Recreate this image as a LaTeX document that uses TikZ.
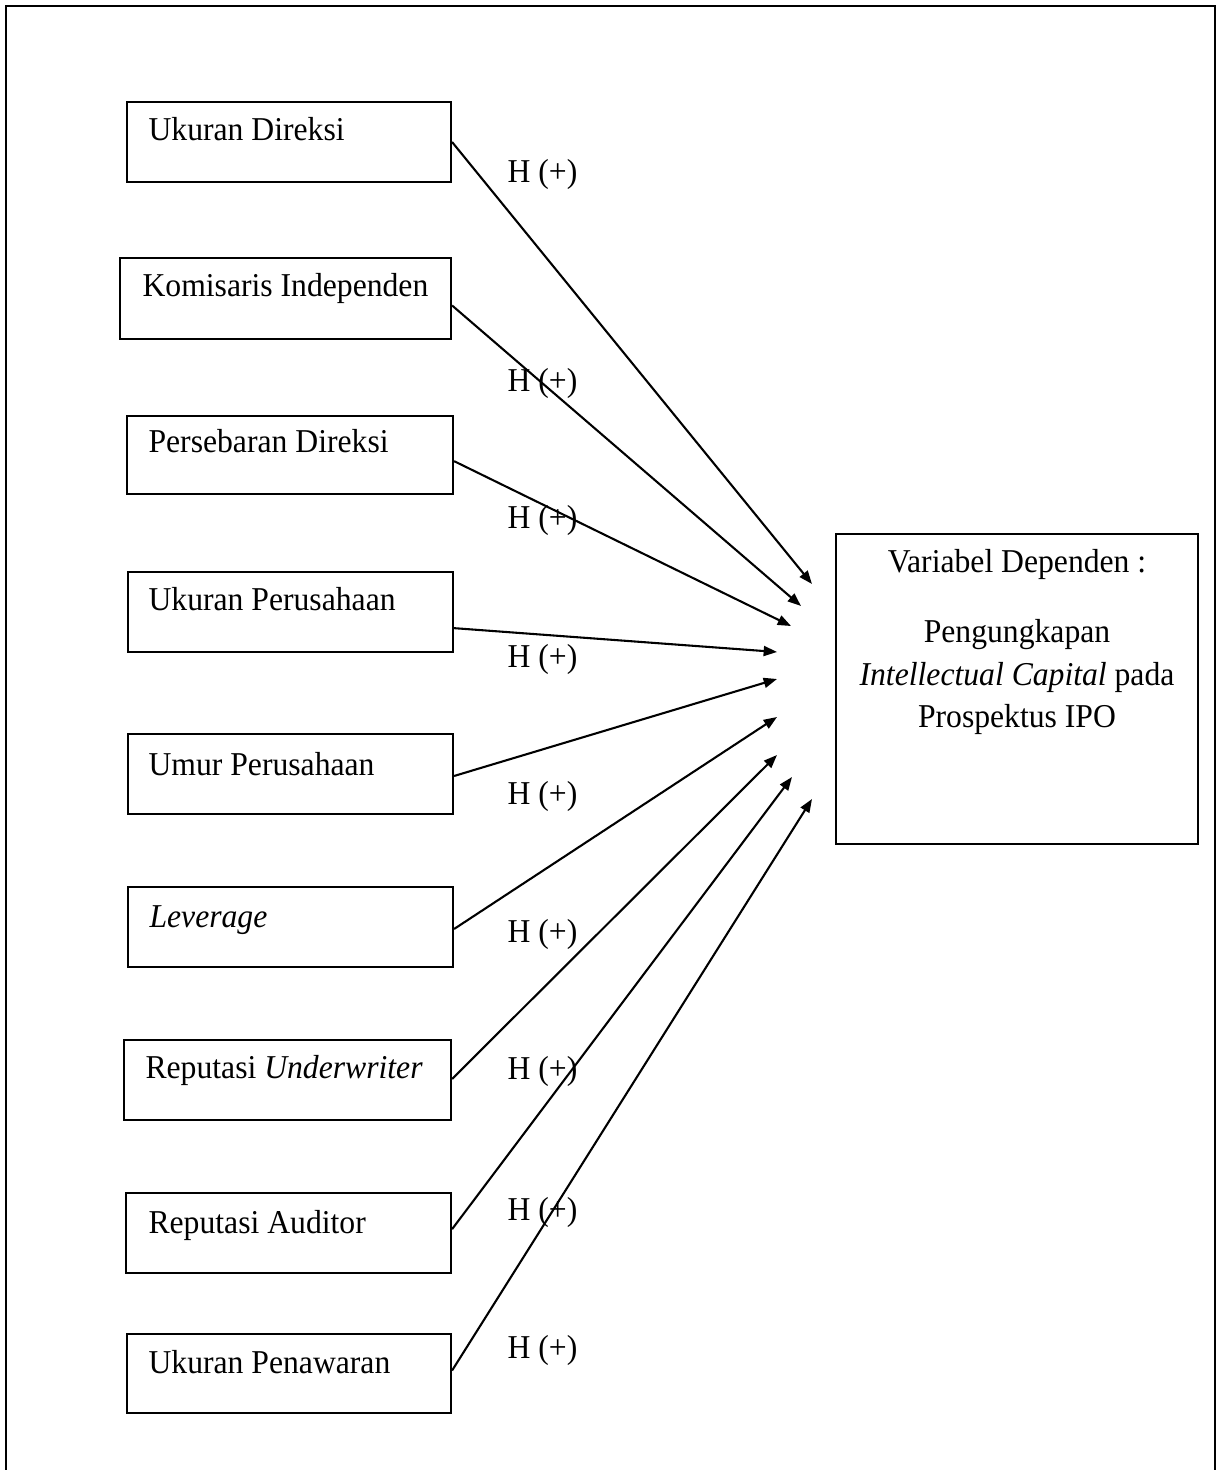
\documentclass[tikz,border=0pt]{standalone}
\usepackage{fontspec}
\setmainfont{Liberation Serif}[FakeStretch=0.95]
\usetikzlibrary{arrows.meta}
\begin{document}
\begin{tikzpicture}[x=0.36pt,y=-0.36pt,
  box/.style={draw,line width=0.75pt,anchor=north west,inner sep=0pt},
  txt/.style={anchor=base west,inner sep=0pt,font=\fontsize{12pt}{14pt}\selectfont},
  ctxt/.style={anchor=base,inner sep=0pt,font=\fontsize{12pt}{14pt}\selectfont},
  hyp/.style={anchor=base west,inner sep=0pt,font=\fontsize{12pt}{14pt}\selectfont},
  conn/.style={line width=0.75pt,-{Triangle[length=4.8pt,width=3.6pt]}}]
\useasboundingbox (0,0) rectangle (1217,1470);
\draw[line width=0.75pt] (6,1475) -- (6,6) -- (1215,6) -- (1215,1475);
\newcommand\bx[5]{\node[box,minimum width={(#4-#2)*0.36pt},minimum height={(#5-#3)*0.36pt}] (#1) at (#2,#3) {};}
% boxes
\bx{b1}{126}{101}{450}{181}
\bx{b2}{119}{257}{450}{338}
\bx{b3}{126}{415}{452}{493}
\bx{b4}{127}{571}{452}{651}
\bx{b5}{127}{733}{452}{813}
\bx{b6}{127}{886}{452}{966}
\bx{b7}{123}{1039}{450}{1119}
\bx{b8}{125}{1192}{450}{1272}
\bx{b9}{126}{1333}{450}{1412}
\bx{dep}{835}{533}{1197}{843}
% texts
\node[txt] (t1) at (148,141) {Ukuran Direksi};
\node[txt] (t2) at (142,297) {Komisaris Independen};
\node[txt] (t3) at (148,453) {Persebaran Direksi};
\node[txt] (t4) at (148,611) {Ukuran Perusahaan};
\node[txt] (t5) at (148,775) {Umur Perusahaan};
\node[txt] (t6) at (149,927) {\itshape Leverage};
\node[txt] (t7) at (145,1078) {Reputasi \textit{Underwriter}};
\node[txt] (t8) at (148,1233) {Reputasi Auditor};
\node[txt] (t9) at (148,1373) {Ukuran Penawaran};
\node[ctxt] (d1) at (1017,573) {Variabel Dependen :};
\node[ctxt] (d2) at (1017,642) {Pengungkapan};
\node[ctxt] (d3) at (1017,685) {\textit{Intellectual Capital} pada};
\node[ctxt] (d4) at (1017,727) {Prospektus IPO};
% arrow tips
\coordinate (e1) at (812,584);
\coordinate (e2) at (801,606);
\coordinate (e3) at (791,626);
\coordinate (e4) at (777,652);
\coordinate (e5) at (777,679);
\coordinate (e6) at (777,717);
\coordinate (e7) at (777,755);
\coordinate (e8) at (792,777);
\coordinate (e9) at (812,799);
% connectors
\draw[conn] ([yshift=0pt]b1.east) -- (e1);
\draw[conn] ([yshift=-2.5pt]b2.east) -- (e2);
\draw[conn] ([yshift=-2.2pt]b3.east) -- (e3);
\draw[conn] ([yshift=-5.8pt]b4.east) -- (e4);
\draw[conn] ([yshift=-0.7pt]b5.east) -- (e5);
\draw[conn] ([yshift=-0.7pt]b6.east) -- (e6);
\draw[conn] ([yshift=0.4pt]b7.east) -- (e7);
\draw[conn] ([yshift=1.4pt]b8.east) -- (e8);
\draw[conn] ([yshift=1.1pt]b9.east) -- (e9);
% labels
\node[hyp] (h1) at (507,183) {H (+)};
\node[hyp] (h2) at (507,392) {H (+)};
\node[hyp] (h3) at (507,529) {H (+)};
\node[hyp] (h4) at (507,667) {H (+)};
\node[hyp] (h5) at (507,804) {H (+)};
\node[hyp] (h6) at (507,942) {H (+)};
\node[hyp] (h7) at (507,1079) {H (+)};
\node[hyp] (h8) at (507,1220) {H (+)};
\node[hyp] (h9) at (507,1358) {H (+)};
\end{tikzpicture}
\end{document}
